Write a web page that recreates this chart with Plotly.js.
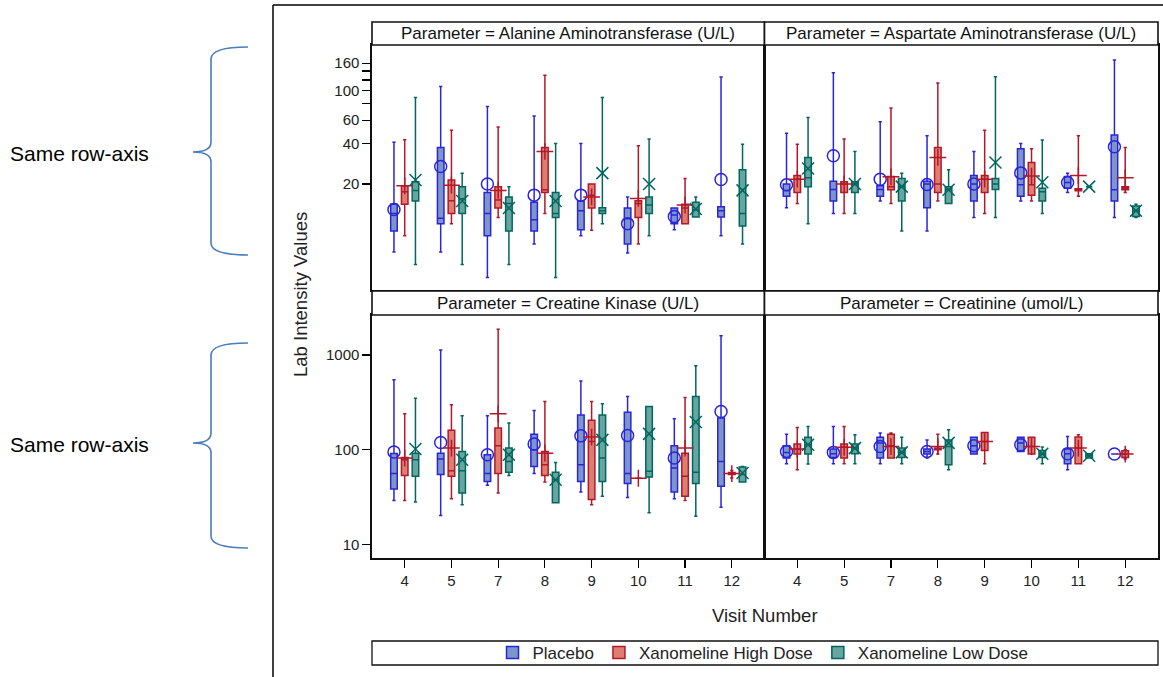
<!DOCTYPE html>
<html><head><meta charset="utf-8">
<script src="https://cdn.plot.ly/plotly-3.0.1.min.js"></script>
<style>html,body{margin:0;padding:0;background:#fff}#chart{width:1163px;height:677px}</style>
</head><body><div id="chart"></div>
<script>
// ---------------- DATA ----------------
const visits = ['4','5','7','8','9','10','11','12'];
const treatments = ['Placebo','Xanomeline High Dose','Xanomeline Low Dose'];
const parameters = ['Alanine Aminotransferase (U/L)','Aspartate Aminotransferase (U/L)','Creatine Kinase (U/L)','Creatinine (umol/L)'];
// each row per visit: [lower whisker, Q1, median, Q3, upper whisker, mean]; null = no data
const altPlacebo = [[6.2,8.9,12.0,14.1,41,12.9],[6.2,10.1,11.1,37.5,107,27.0],[4.0,8.2,12.0,17.3,76,20.0],[7.1,8.9,10.8,14.6,64.5,16.5],[8.2,9.1,12.6,14.9,40.2,16.5],[6.1,7.1,11.0,13.2,16.0,10.1],[9.1,10.1,11.7,13.2,13.2,11.4],[8.2,11.3,12.6,13.5,126,21.6]];
const altHigh = [[8.2,14.1,17.5,19.4,42.8,19.4],[10.1,12.0,15.0,21.4,50.5,19.6],[11.2,13.2,15.2,19.1,53.3,17.9],[12.0,17.3,18.1,37.5,130,35.0],[9.0,13.2,16.5,20.0,20.0,16.0],[7.1,11.2,14.3,15.0,38.7,15.6],[10.1,10.1,13.2,14.1,22.0,13.9],null];
const altLow = [[5.0,14.9,17.9,20.8,88.6,21.4],[5.0,12.0,15.5,19.1,24.1,14.9],[5.0,8.9,14.3,16.0,19.1,13.2],[4.0,11.2,12.0,17.3,40.2,14.9],[10.1,12.0,12.6,13.3,88.6,24.1],[8.2,12.0,13.9,16.0,43.3,20.0],[11.3,11.3,12.8,14.6,16.0,13.0],[7.1,9.7,12.0,25.5,39.6,17.9]];
const astPlacebo = [[13.3,16.2,17.9,20,47.9,19.7],[12.0,14.9,18.2,21.0,136,32.5],[14.9,16.2,18.2,19.4,58.4,21.7],[8.9,13.3,20,21.0,45.8,19.8],[11.2,14.9,20,23.1,35.0,20],[14.9,16.2,19.7,36.6,40.2,24.2],[17.3,18.6,20.5,22.7,24.0,20.5],[11.2,14.9,18.1,46.4,169,37.9]];
const astHigh = [[14.3,17.3,21.7,23.1,39.6,21.7],[12.0,17.3,20,20.8,43.3,20],[14.3,18.1,19.1,22.7,74,22.6],[14.9,17.3,20,37.5,114,31.6],[12.0,17.3,21.7,23.1,50.5,21.7],[14.9,16.5,19.7,28.9,36.6,22.9],[16.2,17.8,18.1,18.4,45.8,23.1],[17.3,18.1,18.6,19.1,37.5,22.3]];
const astLow = [[10.1,19.1,22.3,31.6,62.7,26.1],[12.0,17.3,20,20.8,35.0,20],[8.9,14.9,19.1,22.0,24.0,19.1],[14.3,14.3,18.2,19.1,25.5,18.1],[11.2,18.2,20,22.0,127,28.9],[12.0,14.9,17.5,18.6,42.7,20.6],[19.1,19.1,19.1,19.1,19.1,19.1],[11.2,11.4,12.6,13.7,14.1,12.6]];
const ckPlacebo = [[29.2,38.6,56,91,546,94.5],[20.2,54.6,80,92,1129,119],[42.1,46.3,56,88.6,228,88.6],[56,66.7,100,146,259,115],[35.9,46.3,69.6,233,532,140],[31.4,43.9,56,249,364,141],[30.3,35.9,64.1,110,212,81.7],[24.7,41.1,75.3,216,1596,253]];
const ckHigh = [[29.2,53.6,78.5,83,239,81.7],[30.3,52.4,60.1,160,298,104],[35,56,110,169,1863,239],[45.7,53.6,69.6,96,322,92],[26.3,29.8,122,204,322,136],[50,50,50,50,50,50],[29.2,32.2,52.4,92,355,104],[50.3,54.7,56,57.5,60.5,56]];
const ckLow = [[28.1,52.4,78.5,92,350,101.7],[26.3,35,60,96,228,78.5],[53.6,57.7,75.3,104,191,88.6],[27.5,27.5,48.3,57.7,73.5,48.3],[32.2,46.3,81.7,233,305,127],[21.6,51.5,59.1,286,286,147],[19.9,43.9,57.7,364,770,196],[45.7,45.7,54.6,65.7,66.7,56.9]];
const creatPlacebo = [[71.2,81.7,93.7,110,146,96],[71.2,83,90.8,101.7,176,93.7],[71.2,81.7,118,135,150,108],[81.7,90,96,101.7,127,96],[90,90,110,135,135,110],[96,96,118,135,135,113],[61.6,71.2,90.8,101.7,138,90.8],[90,90,90,90,90,90]];
const creatHigh = [[61.6,90,101.7,115,172,101.7],[71.2,81.7,106,115,176,106],[81.7,81.7,110,146,150,108],[90,100,102,104,146,108],[71.2,98.3,122,152,152,122],[90,90,108,135.6,135.6,108],[71.2,71.2,104,136,144,104],[80,83,90,97.5,100,90]];
const creatLow = [[70.7,90,113,135,176,113],[71.2,90.8,104,115,144,104],[71.2,83,93.7,104,135,93.7],[61.6,69.6,108,127,162,118],null,[71.2,83,90,98.3,107,90.8],[81.7,81.7,86.4,90.8,90.8,86.4],null];

const topTicks = [20,40,60,80,100,120,140,160];
const topTickText = ['20','40','60','','100','','','160'];
const bottomTicks = [10,100,1000];
const bottomTickText = ['10','100','1000'];

// ---------------- STYLE ----------------
const lineColors = ['#2A25D9','#B2182B','#01665E'];
const fillColors = ['#7C95CA','#DE7E6F','#66A5A0'];
const meanSymbols = ['circle-open','cross-thin-open','x-thin-open'];
const offsets = [-0.23, 0, 0.23];
const FONT = 'Liberation Sans, Arial, sans-serif';
const W = 1163, H = 677;
const px = x => x / W, py = y => 1 - y / H;

const panelData = [[altPlacebo,altHigh,altLow],[astPlacebo,astHigh,astLow],[ckPlacebo,ckHigh,ckLow],[creatPlacebo,creatHigh,creatLow]];
const traces = [];
panelData.forEach((sets, p) => {
  const xa = p === 0 ? 'x' : 'x' + (p + 1);
  const ya = p === 0 ? 'y' : 'y' + (p + 1);
  sets.forEach((rows, t) => {
    const xs = [], lo = [], q1 = [], md = [], q3 = [], hi = [], mn = [];
    rows.forEach((r, i) => {
      if (!r) return;
      xs.push(i + offsets[t]);
      lo.push(r[0]); q1.push(r[1]); md.push(r[2]); q3.push(r[3]); hi.push(r[4]); mn.push(r[5]);
    });
    traces.push({
      type: 'box', name: treatments[t], legendgroup: treatments[t], showlegend: p === 0,
      xaxis: xa, yaxis: ya, x: xs, lowerfence: lo, q1: q1, median: md, q3: q3, upperfence: hi,
      boxpoints: false, width: 0.14, whiskerwidth: 0.5,
      fillcolor: fillColors[t], line: {color: lineColors[t], width: 1.5}, hoverinfo: 'skip'
    });
    traces.push({
      type: 'scatter', mode: 'markers', name: treatments[t] + ' mean', legendgroup: treatments[t], showlegend: false,
      xaxis: xa, yaxis: ya, x: xs, y: mn,
      marker: {symbol: meanSymbols[t], size: 12, color: lineColors[t], line: {color: lineColors[t], width: 1.5}},
      hoverinfo: 'skip'
    });
  });
});

const xL = [px(372), px(764.5)], xR = [px(764.5), px(1158)];
const yT = [py(290), py(45)], yB = [py(558), py(315)];
const topRange = [Math.log10(3.22), Math.log10(219)];
const botRange = [Math.log10(7.2), Math.log10(2640)];
const idx = visits.map((v, i) => i);

function xax(dom, anchor, labels) {
  return {domain: dom, anchor: anchor, range: [-0.7, 7.7], tickvals: idx, ticktext: visits,
    showticklabels: labels, ticks: labels ? 'outside' : '', ticklen: 8, tickwidth: 1.2, tickcolor: '#000',
    showline: true, mirror: true, linecolor: '#111', linewidth: 1.6, showgrid: false, zeroline: false,
    tickfont: {family: FONT, size: 15, color: '#222'}, fixedrange: true};
}
function yax(dom, anchor, range, tv, tt, labels) {
  return {domain: dom, anchor: anchor, type: 'log', range: range, tickvals: tv, ticktext: tt,
    showticklabels: labels, ticks: labels ? 'outside' : '', ticklen: 8, tickwidth: 1.2, tickcolor: '#000',
    showline: true, mirror: true, linecolor: '#111', linewidth: 1.6, showgrid: false, zeroline: false,
    tickfont: {family: FONT, size: 15, color: '#222'}, fixedrange: true};
}

const shapes = [];
const annotations = [];
// outer frame
shapes.push({type: 'line', xref: 'paper', yref: 'paper', x0: px(273), x1: px(273), y0: py(5), y1: py(677), line: {color: '#000', width: 1.5}});
shapes.push({type: 'line', xref: 'paper', yref: 'paper', x0: px(273), x1: px(1163), y0: py(5), y1: py(5), line: {color: '#000', width: 1.5}});
// panel headers
const headers = [[372, 764.5, 22, 45], [764.5, 1158, 22, 45], [372, 764.5, 291, 315], [764.5, 1158, 291, 315]];
headers.forEach((h, i) => {
  shapes.push({type: 'rect', xref: 'paper', yref: 'paper', x0: px(h[0]), x1: px(h[1]), y0: py(h[3]), y1: py(h[2]), line: {color: '#111', width: 1.6}, fillcolor: '#fff'});
  annotations.push({xref: 'paper', yref: 'paper', x: px((h[0] + h[1]) / 2), y: py((h[2] + h[3]) / 2), text: 'Parameter = ' + parameters[i],
    showarrow: false, xanchor: 'center', yanchor: 'middle', font: {family: FONT, size: 17, color: '#111'}});
});
// legend border
shapes.push({type: 'rect', xref: 'paper', yref: 'paper', x0: px(372), x1: px(1158), y0: py(665), y1: py(641), line: {color: '#111', width: 1.3}});
// braces
function brace(top, mid, bot) {
  const X = v => px(v).toFixed(5), Y = v => py(v).toFixed(5);
  return 'M ' + X(248) + ',' + Y(top) +
    ' Q ' + X(211) + ',' + Y(top) + ' ' + X(211) + ',' + Y(top + 12) +
    ' L ' + X(211) + ',' + Y(mid - 10) +
    ' Q ' + X(211) + ',' + Y(mid) + ' ' + X(193) + ',' + Y(mid) +
    ' Q ' + X(211) + ',' + Y(mid) + ' ' + X(211) + ',' + Y(mid + 10) +
    ' L ' + X(211) + ',' + Y(bot - 12) +
    ' Q ' + X(211) + ',' + Y(bot) + ' ' + X(248) + ',' + Y(bot);
}
shapes.push({type: 'path', xref: 'paper', yref: 'paper', path: brace(47, 152, 255), line: {color: '#4A7EBB', width: 1.6}});
shapes.push({type: 'path', xref: 'paper', yref: 'paper', path: brace(343, 443, 548), line: {color: '#4A7EBB', width: 1.6}});
annotations.push({xref: 'paper', yref: 'paper', x: px(8), y: py(153), text: 'Same row-axis', showarrow: false, xanchor: 'left', yanchor: 'middle', font: {family: FONT, size: 21, color: '#000'}});
annotations.push({xref: 'paper', yref: 'paper', x: px(8), y: py(444), text: 'Same row-axis', showarrow: false, xanchor: 'left', yanchor: 'middle', font: {family: FONT, size: 21, color: '#000'}});
// axis titles
annotations.push({xref: 'paper', yref: 'paper', x: px(300), y: py(295), text: 'Lab Intensity Values', textangle: -90, showarrow: false, xanchor: 'center', yanchor: 'middle', font: {family: FONT, size: 18.5, color: '#222'}});
annotations.push({xref: 'paper', yref: 'paper', x: px(765), y: py(615), text: 'Visit Number', showarrow: false, xanchor: 'center', yanchor: 'middle', font: {family: FONT, size: 18.5, color: '#222'}});

const layout = {
  width: W, height: H, margin: {l: 0, r: 0, t: 0, b: 0}, paper_bgcolor: '#fff', plot_bgcolor: '#fff',
  font: {family: FONT, color: '#222'},
  boxmode: 'overlay',
  xaxis: xax(xL, 'y', false), xaxis2: xax(xR, 'y2', false),
  xaxis3: xax(xL, 'y3', true), xaxis4: xax(xR, 'y4', true),
  yaxis: yax(yT, 'x', topRange, topTicks, topTickText, true),
  yaxis2: yax(yT, 'x2', topRange, topTicks, topTickText, false),
  yaxis3: yax(yB, 'x3', botRange, bottomTicks, bottomTickText, true),
  yaxis4: yax(yB, 'x4', botRange, bottomTicks, bottomTickText, false),
  showlegend: true,
  legend: {orientation: 'h', x: px(763), xanchor: 'center', y: py(653), yanchor: 'middle', bgcolor: 'rgba(0,0,0,0)',
    font: {family: FONT, size: 17, color: '#222'}, itemwidth: 30, tracegroupgap: 0},
  shapes: shapes, annotations: annotations
};
Plotly.newPlot('chart', traces, layout, {staticPlot: true, displayModeBar: false});
</script>
</body></html>
